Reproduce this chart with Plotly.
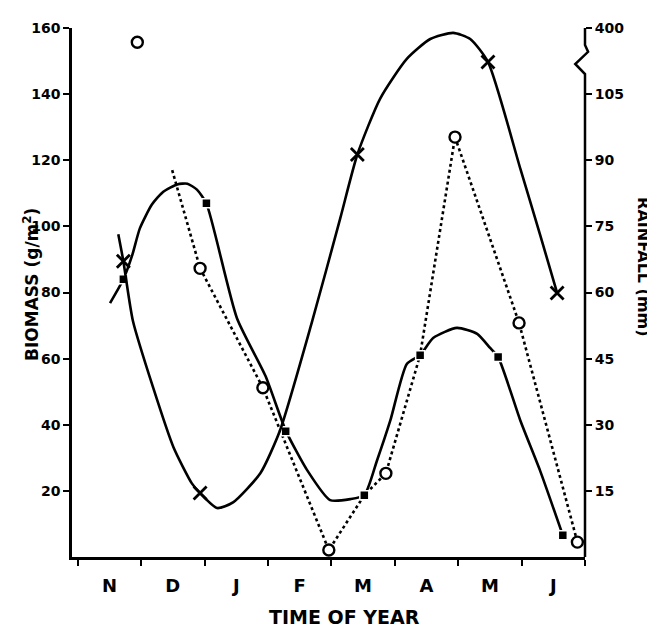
import plotly.graph_objects as go

# ---- data (x = months since 1 November) ----
month_labels = ["N", "D", "J", "F", "M", "A", "M", "J"]
month_centres = [0.5, 1.5, 2.5, 3.5, 4.5, 5.5, 6.5, 7.5]

# biomass, filled squares (g/m2)
sq_month = [0.72, 2.03, 3.28, 4.52, 5.40, 6.63, 7.65]
sq_biomass = [84, 107, 38, 18.7, 61, 60.5, 6.6]

# biomass, open circles (g/m2)
ci_month = [0.94, 1.93, 2.92, 3.96, 4.86, 5.95, 6.96, 7.88]
ci_biomass = [155.7, 87.3, 51.2, 2.1, 25.3, 127, 70.8, 4.5]

# rainfall, crosses (mm, scale broken above 105)
x_month = [0.72, 1.93, 4.41, 6.47, 7.56]
x_rain = [67.1, 14.5, 91.3, 112.3, 59.9]

# hand-drawn solid curve through the squares
sq_curve_month = [0.51, 0.72, 0.86, 0.98, 1.17, 1.35, 1.57, 1.73, 1.88, 2.03, 2.51, 2.96,
                  3.28, 3.62, 3.98, 4.30, 4.52, 4.72, 4.93, 5.19, 5.40, 5.61, 5.98, 6.30,
                  6.50, 6.63, 6.98, 7.29, 7.65]
sq_curve_biomass = [76.8, 84.0, 91.3, 99.4, 106.6, 110.5, 112.7, 112.9, 111.1, 106.9, 72.3, 54.8,
                    38.3, 26.2, 17.2, 17.5, 18.7, 29.2, 41.3, 58.4, 61.1, 66.3, 69.3, 67.5,
                    63.3, 60.5, 41.3, 26.2, 6.6]

# hand-drawn solid curve through the crosses
rain_curve_month = [0.64, 0.72, 0.87, 1.19, 1.51, 1.80, 1.93, 2.20, 2.45, 2.88, 3.19, 3.70,
                    4.14, 4.41, 4.77, 5.19, 5.56, 5.92, 6.19, 6.47, 6.98, 7.29, 7.56]
rain_curve_mm = [73.2, 67.1, 53.6, 38.4, 24.9, 16.7, 14.5, 11.1, 12.4, 19.0, 28.7, 53.6,
                 76.8, 91.3, 104, 113, 117.5, 118.9, 117.5, 112.3, 88.1, 73.2, 59.9]

# dotted line
dot_month = [1.49, 1.93, 2.92, 3.96, 4.52, 4.86, 5.40, 5.95, 6.96, 7.88]
dot_biomass = [117, 87.3, 51.2, 2.1, 18.7, 25.3, 61.1, 127, 70.8, 4.5]

# axis ticks
bio_ticks = [20, 40, 60, 80, 100, 120, 140, 160]
rain_tickvals = [15, 30, 45, 60, 75, 90, 105, 120]
rain_ticktext = ["15", "30", "45", "60", "75", "90", "105", "400"]

FONT = "DejaVu Sans"
fig = go.Figure()

fig.add_trace(go.Scatter(x=sq_curve_month, y=sq_curve_biomass, mode="lines",
                         line=dict(color="black", width=2.6, shape="spline", smoothing=0.6),
                         yaxis="y", showlegend=False))
fig.add_trace(go.Scatter(x=rain_curve_month, y=rain_curve_mm, mode="lines",
                         line=dict(color="black", width=2.6, shape="spline", smoothing=0.6),
                         yaxis="y2", showlegend=False))
fig.add_trace(go.Scatter(x=dot_month, y=dot_biomass, mode="lines",
                         line=dict(color="black", width=2.6, dash="dot"),
                         yaxis="y", showlegend=False))
fig.add_trace(go.Scatter(x=sq_month, y=sq_biomass, mode="markers",
                         marker=dict(symbol="square", size=9, color="black",
                                     line=dict(color="white", width=1.5)),
                         yaxis="y", showlegend=False))
fig.add_trace(go.Scatter(x=ci_month, y=ci_biomass, mode="markers",
                         marker=dict(symbol="circle", size=11, color="white",
                                     line=dict(color="black", width=2.4)),
                         yaxis="y", showlegend=False))
fig.add_trace(go.Scatter(x=x_month, y=x_rain, mode="markers",
                         marker=dict(symbol="x-thin", size=13, color="black",
                                     line=dict(color="black", width=2.8)),
                         yaxis="y2", showlegend=False))

tickfont = dict(family=FONT, size=14, color="black")

# the page body adds an 8px offset, so the margins compensate for it
fig.update_layout(
    width=655, height=640,
    margin=dict(l=64, r=78, t=18, b=91),
    paper_bgcolor="white", plot_bgcolor="white",
    xaxis=dict(range=[-0.09, 8.0], tickvals=month_centres, ticktext=[f"<b>{m}</b>" for m in month_labels],
               ticks="", showgrid=False, zeroline=False, showline=True, linecolor="black", linewidth=2.5,
               tickfont=dict(family=FONT, size=18, color="black"), ticklabelstandoff=11,
               minor=dict(ticks="outside", tick0=0, dtick=1, ticklen=6, tickwidth=2, tickcolor="black")),
    yaxis=dict(range=[0, 160], tickvals=bio_ticks, ticktext=[f"<b>{v}</b>" for v in bio_ticks],
               ticks="outside", ticklen=6, tickwidth=2, tickcolor="black",
               showgrid=False, zeroline=False, showline=True, linecolor="black", linewidth=2.5,
               tickfont=tickfont),
    yaxis2=dict(range=[0, 120], overlaying="y", side="right", tickvals=rain_tickvals,
                ticktext=[f"<b>{t}</b>" for t in rain_ticktext],
                ticks="outside", ticklen=6, tickwidth=2, tickcolor="black",
                showgrid=False, zeroline=False, showline=False, tickfont=tickfont),
    shapes=[dict(type="path", xref="paper", yref="paper",
                 path="M 1,0 L 1,0.913 L 0.981,0.932 L 1.006,0.955 L 1,0.968 L 1,1.0",
                 line=dict(color="black", width=2.5))],
    annotations=[
        dict(text="<b>BIOMASS (g/m<sup>2</sup>)</b>", xref="paper", yref="paper", x=-0.080, y=0.516,
             xanchor="center", yanchor="middle",
             textangle=-90, showarrow=False, font=dict(family=FONT, size=17, color="black")),
        dict(text="<b>RAINFALL (mm)</b>", xref="paper", yref="paper", x=1.115, y=0.548,
             xanchor="center", yanchor="middle",
             textangle=90, showarrow=False, font=dict(family=FONT, size=16, color="black")),
        dict(text="<b>TIME OF YEAR</b>", xref="paper", yref="paper", x=0.532, y=-0.113,
             xanchor="center", yanchor="middle",
             showarrow=False, font=dict(family=FONT, size=19, color="black")),
    ],
)

fig.write_html("out.html")
